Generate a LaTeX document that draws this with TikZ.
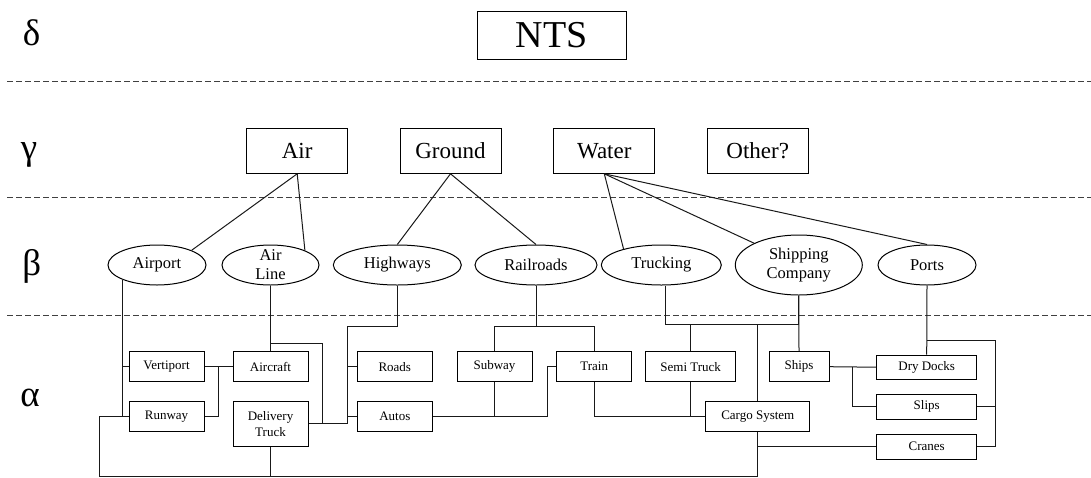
\documentclass[tikz,border=0pt]{standalone}
\usepackage{fontspec}
\setmainfont{Liberation Serif}
\usetikzlibrary{shapes.geometric,calc}
\begin{document}
\begin{tikzpicture}[x=1pt,y=-1pt,
  level/.style={font=\fontsize{37}{40}\selectfont, anchor=base, inner sep=0pt},
  sep/.style={draw=black!75, line width=1.2pt, dash pattern=on 6pt off 3pt},
  topbox/.style={draw, line width=1pt, minimum width=149pt, minimum height=48pt, inner sep=0pt, font=\fontsize{38}{40}\selectfont},
  mode/.style={draw, line width=1pt, minimum width=101pt, minimum height=45pt, inner sep=0pt, font=\fontsize{23}{26}\selectfont},
  sys/.style={ellipse, draw, line width=1pt, inner sep=0pt, minimum height=40pt, font=\fontsize{16.5}{19}\selectfont, align=center},
  systxt/.style={font=\fontsize{16.5}{19}\selectfont, align=center},
  part/.style={draw, line width=1pt, minimum width=75pt, minimum height=30pt, inner sep=0pt, font=\fontsize{13}{15.6}\selectfont, align=center},
  link/.style={line width=1pt, draw=black!90}
]
\useasboundingbox (0,0) rectangle (1091,477);

% level markers
\node[level] (ldelta) at (31.7,45) {δ};
\node[level] (lgamma) at (29,159) {γ};
\node[level] (lbeta)  at (31.7,275) {β};
\node[level] (lalpha) at (30,406) {α};

% level separators
\draw[sep] (7,81.5) -- (1091,81.5);
\draw[sep] (7,197.3) -- (1091,197.3);
\draw[sep] (7,315.5) -- (1091,315.5);

% delta level
\node[topbox] (nts) at (551.5,35.5) {NTS};

% gamma level
\node[mode] (air)    at (297.2,150.8) {Air};
\node[mode] (ground) at (450.5,150.8) {Ground};
\node[mode] (water)  at (604.3,150.8) {Water};
\node[mode] (other)  at (757.7,150.8) {Other?};

% beta level
\node[sys, minimum width=98pt]  (airport)   at (157,265) {Airport};
\node[sys, minimum width=97pt, label={[systxt]center:{Air\\Line}}] (airline) at (270.5,265) {};
\node[sys, minimum width=128pt] (highways)  at (397.3,265) {Highways};
\node[sys, minimum width=122pt] (railroads) at (536,265) {Railroads};
\node[sys, minimum width=120pt] (trucking)  at (661.3,265) {Trucking};
\node[sys, minimum width=127pt, minimum height=60pt] (shipping) at (798.8,265) {Shipping\\Company};
\node[sys, minimum width=98pt]  (ports)     at (927,265) {Ports};

% alpha level
\node[part] (vertiport) at (166.5,366.7) {Vertiport};
\node[part] (aircraft)  at (270.5,366.7) {Aircraft};
\node[part] (runway)    at (166.5,416.7) {Runway};
\node[part, minimum height=44.3pt] (delivery) at (270.5,423.9) {Delivery\\Truck};
\node[part] (roads)     at (394.8,366.7) {Roads};
\node[part] (autos)     at (394.8,416.7) {Autos};
\node[part] (subway)    at (494.5,366.7) {Subway};
\node[part] (train)     at (594.2,366.7) {Train};
\node[part, minimum width=90pt]  (semi)  at (690.7,366.7) {Semi Truck};
\node[part, minimum width=60pt]  (ships) at (799,366.7) {Ships};
\node[part, minimum width=104pt] (cargo) at (757.8,416.7) {Cargo System};
\node[part, minimum width=100pt, minimum height=24pt] (drydocks) at (926.7,367.2) {Dry Docks};
\node[part, minimum width=100pt, minimum height=25pt] (slips)    at (926.7,406.7) {Slips};
\node[part, minimum width=100pt, minimum height=25pt] (cranes)   at (926.7,446.5) {Cranes};

% gamma to beta
\draw[link] (air.south) -- (airport.23);
\draw[link] (air.south) -- (airline.23);
\draw[link] (ground.south) -- (highways.north);
\draw[link] (ground.south) -- (railroads.north);
\draw[link] (water.south) -- (trucking.157);
\draw[link] (water.south) -- (shipping.154);
\draw[link] (water.south) -- (ports.north);

% bend points of the alpha wiring
\coordinate (bus) at (99,476);
\coordinate (alj) at (322.3,343.3);
\coordinate (hwj) at (347.3,326);
\coordinate (rrj) at (536,326.7);
\coordinate (tkj) at (665.7,324.3);
\coordinate (ptj) at (995,340);
\coordinate (avj) at (218.5,366.7);
\coordinate (rdj) at (547.7,416.7);
\coordinate (shj) at (852.7,366.7);

% air
\draw[link] (airport.203) |- (vertiport.west);
\draw[link] (airport.203) |- (runway.west);
\draw[link] (vertiport.east) -- (aircraft.west);
\draw[link] (runway.east) -| (avj);
\draw[link] (runway.west) -| (bus) -| (cargo.south);
\draw[link] (delivery.south) -- (delivery.south |- bus);
\draw[link] (airline.south) -- (aircraft.north);
\draw[link] (airline.south |- alj) -- (alj) |- (delivery.east);

% ground
\draw[link] (delivery.east) -- (delivery.east -| hwj);
\draw[link] (highways.south) |- (hwj) |- (roads.west);
\draw[link] (hwj) |- (autos.west);
\draw[link] (hwj) -- (hwj |- delivery.east);
\draw[link] (railroads.south) -- (rrj);
\draw[link] (subway.north) |- (rrj) -| (train.north);
\draw[link] (autos.east) -- (rdj) |- (train.west);
\draw[link] (subway.south) -- (subway.south |- autos.east);
\draw[link] (train.south) |- (cargo.west);
\draw[link] (semi.south) -- (semi.south |- cargo.west);

% water
\draw[link] (trucking.south -| tkj) -- (tkj) -| (shipping.south);
\draw[link] (shipping.south) -- (ships.north);
\draw[link] (semi.north) -- (semi.north |- tkj);
\draw[link] (cargo.north) -- (cargo.north |- tkj);
\draw[link] (cargo.south |- cranes.west) -- (cranes.west);
\draw[link] (ships.east) -- (drydocks.west);
\draw[link] (shj) |- (slips.west);
\draw[link] (ports.south) -- (drydocks.north);
\draw[link] (ports.south |- ptj) -- (ptj) |- (cranes.east);
\draw[link] (slips.east) -- (slips.east -| ptj);
\end{tikzpicture}
\end{document}
